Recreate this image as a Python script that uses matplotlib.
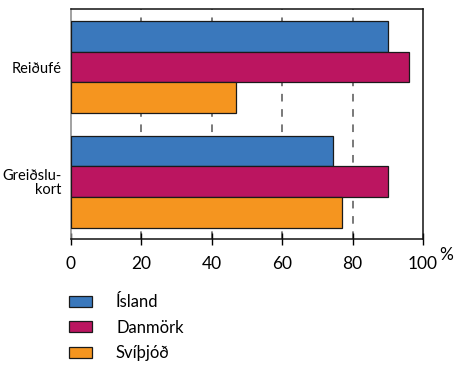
import numpy as np
import matplotlib.pyplot as plt
from matplotlib.patches import Patch

plt.rcParams['font.family'] = ['Lato', 'DejaVu Sans']

flokkar = ['Reiðufé', 'Greiðslu-\nkort']
lond = ['Ísland', 'Danmörk', 'Svíþjóð']
island = [90, 74.5]
danmork = [96, 90]
svithjod = [47, 77]
litir = ['#3a78bc', '#bb1560', '#f5951f']
x_ticks = [0, 20, 40, 60, 80, 100]

fig = plt.figure(figsize=(4.57, 3.65), dpi=100)
ax = fig.add_axes([71/457, 1 - 239/365, 352/457, 230/365])

y = np.arange(len(flokkar))
h = 0.268
for i, (gildi, litur) in enumerate(zip([island, danmork, svithjod], litir)):
    ax.barh(y + (i - 1) * h, gildi, height=h, color=litur,
            edgecolor='#1a1a1a', linewidth=0.9, zorder=3)

# strikalínur á bak við súlurnar
for v in x_ticks[1:-1]:
    ax.axvline(v, color='#555555', linewidth=1.1, linestyle=(0, (5, 5)), zorder=1)

ax.set_xlim(0, 100)
ax.set_ylim(1.502, -0.507)
ax.set_xticks(x_ticks)
ax.set_xticklabels([str(t) for t in x_ticks], fontsize=12.5)
ax.set_yticks(y)
ax.set_yticklabels(flokkar, fontsize=10.5, linespacing=1.0, multialignment='right')
ax.tick_params(axis='y', length=0, pad=7)
ax.tick_params(axis='x', direction='inout', length=8, width=1, pad=8)

for s in ['top', 'right', 'bottom']:
    ax.spines[s].set_color('#111111')
    ax.spines[s].set_linewidth(1.1)
ax.spines['left'].set_color('#888888')
ax.spines['left'].set_linewidth(1.1)

fig.text(446/457, 1 - 255/365, '%', fontsize=12.5, ha='center', va='center')

handles = [Patch(facecolor=c, edgecolor='#1a1a1a', linewidth=0.9) for c in litir]
fig.legend(handles, lond, loc='upper left', bbox_to_anchor=(69/457, 1 - 294/365),
           frameon=False, borderpad=0, borderaxespad=0, fontsize=12,
           handlelength=1.38, handleheight=0.62, handletextpad=1.44,
           labelspacing=0.58)

fig.savefig('out.png', dpi=100)
